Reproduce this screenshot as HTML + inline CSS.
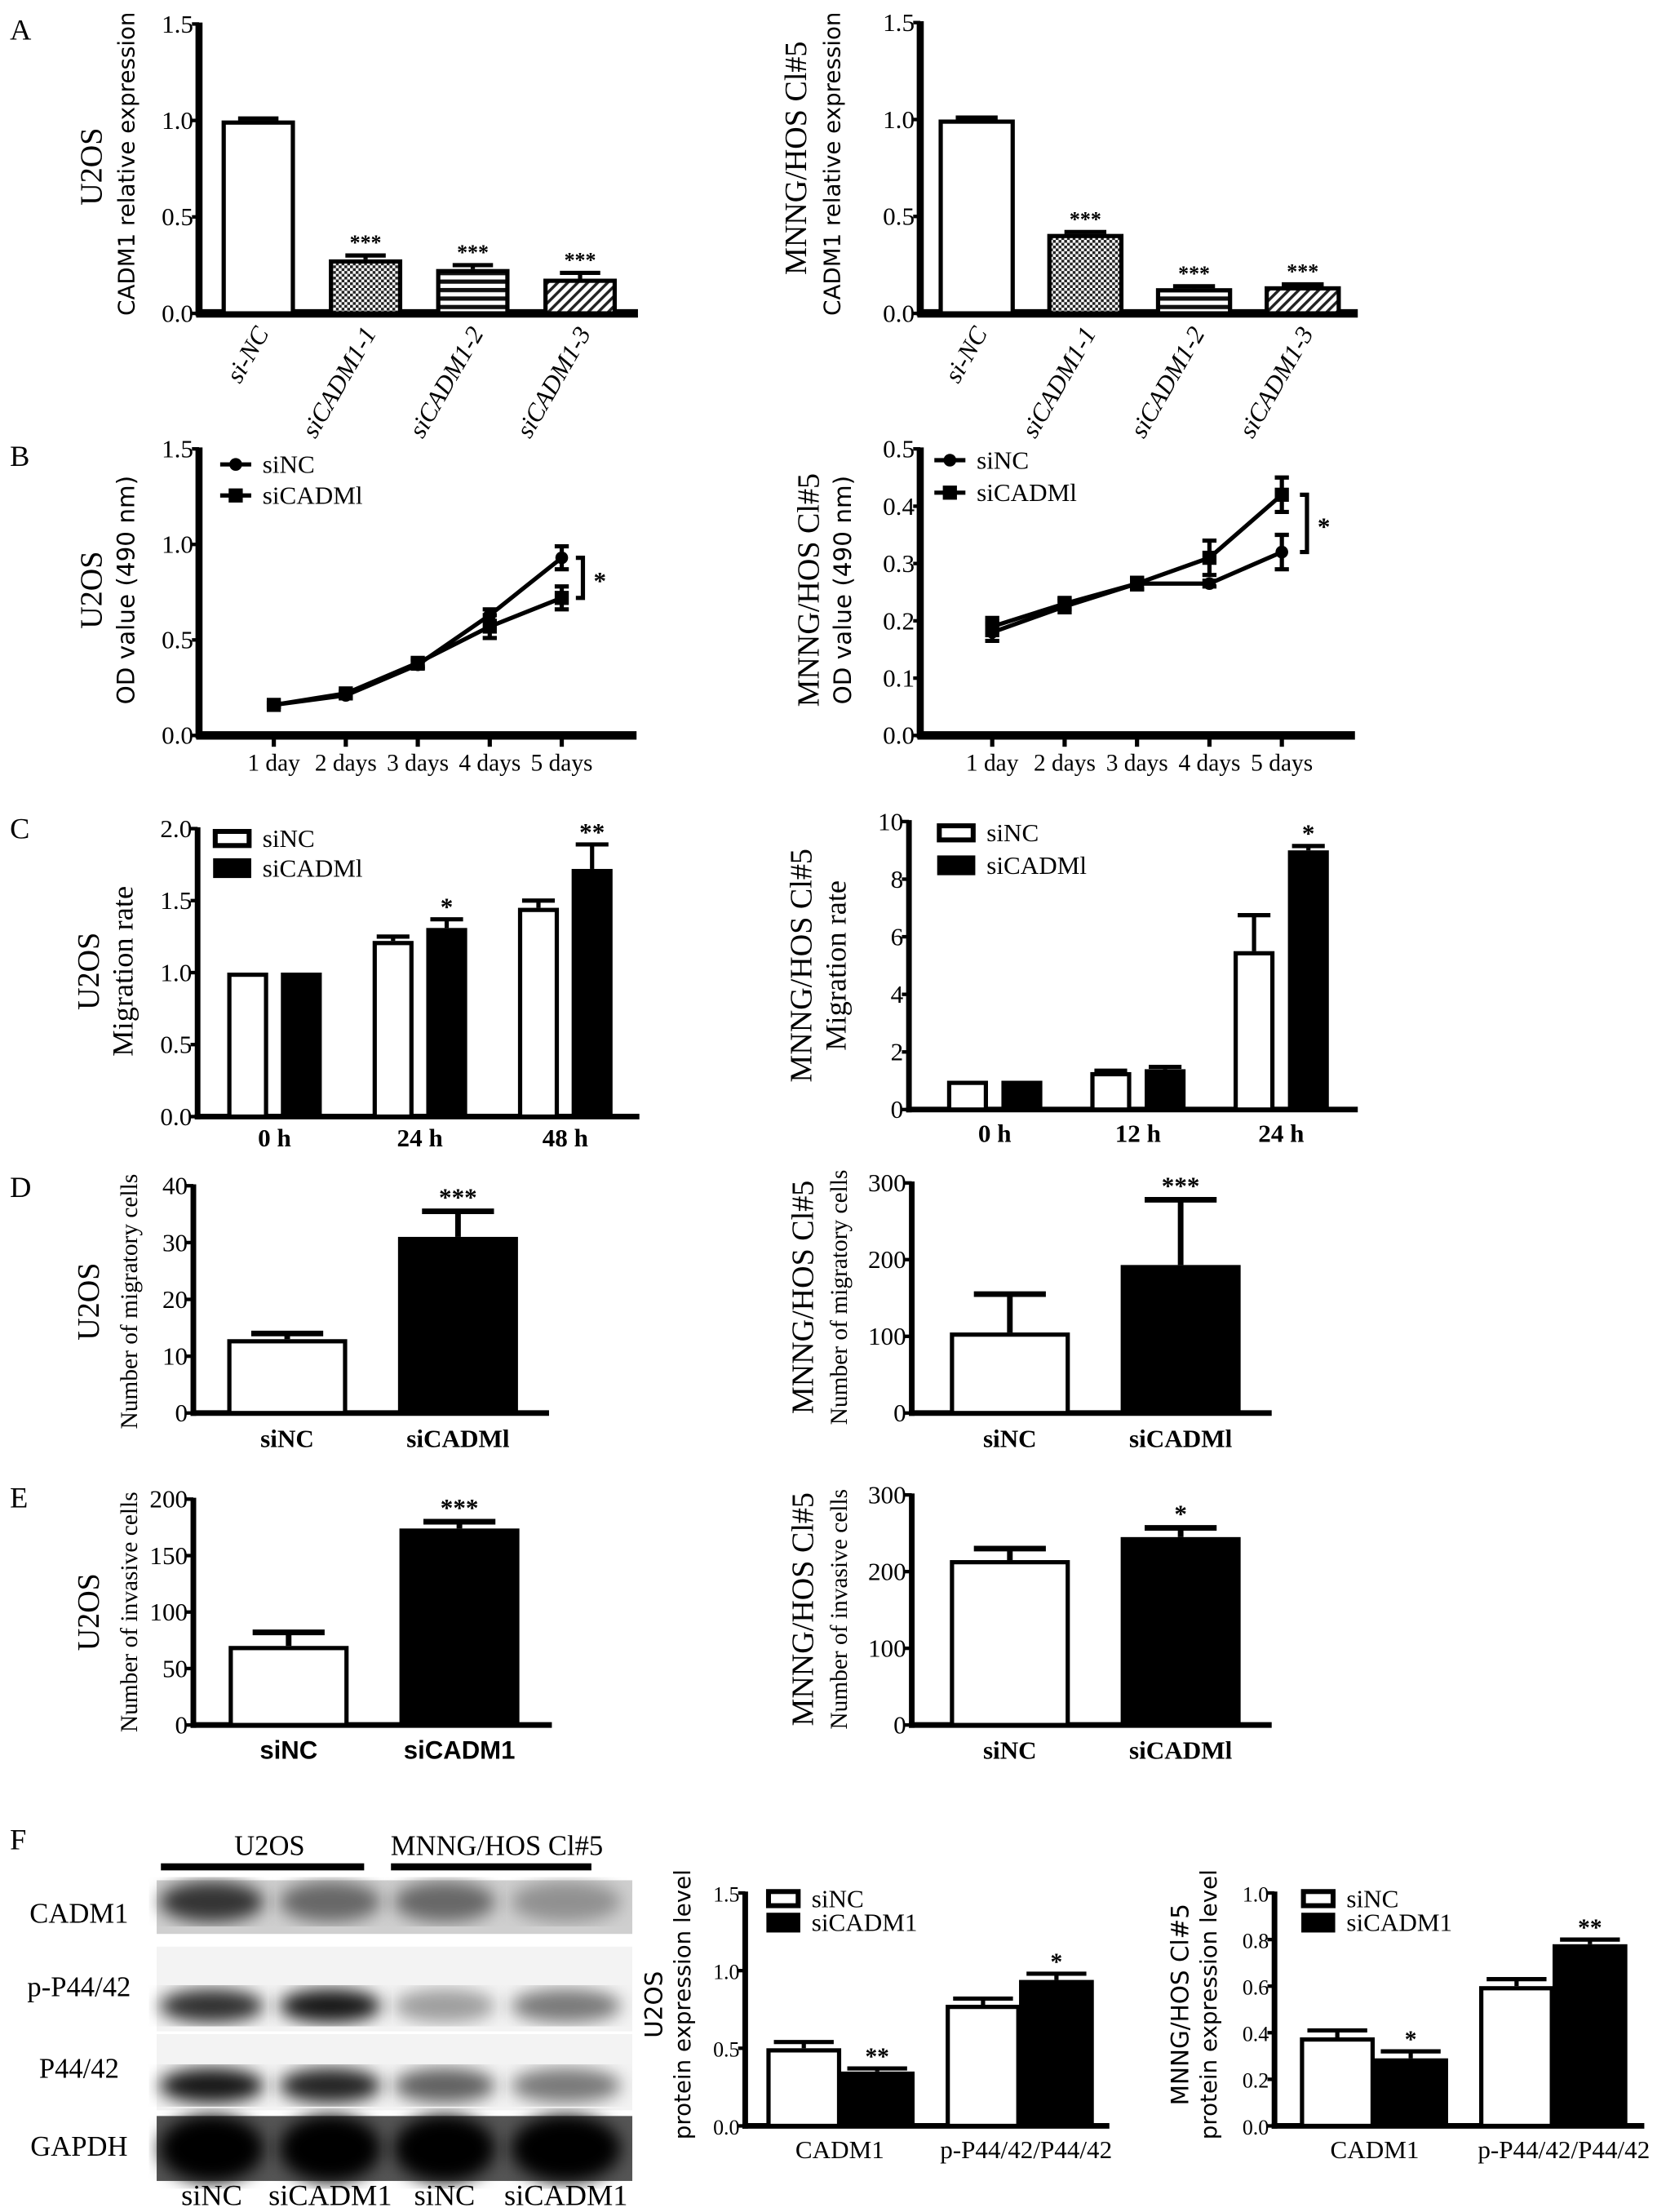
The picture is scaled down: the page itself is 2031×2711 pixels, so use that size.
<!DOCTYPE html>
<html><head><meta charset="utf-8"><style>
html,body{margin:0;padding:0;background:#fff}
svg{display:block}
text{font-family:"Liberation Serif",serif;fill:#000}
</style></head><body>
<svg id="fig" xmlns="http://www.w3.org/2000/svg" width="2031" height="2711" viewBox="0 0 1174 1567" preserveAspectRatio="none">
<defs>
<pattern id="pDots" width="4" height="4" patternUnits="userSpaceOnUse"><rect width="4" height="4" fill="#fff"/><rect width="2" height="2" fill="#222"/><rect x="2" y="2" width="2" height="2" fill="#222"/></pattern>
<pattern id="pHoriz" width="6" height="6" patternUnits="userSpaceOnUse"><rect width="6" height="6" fill="#fff"/><rect width="6" height="3" fill="#111"/></pattern>
<pattern id="pDiag" width="5" height="5" patternUnits="userSpaceOnUse" patternTransform="rotate(45)"><rect width="5" height="5" fill="#fff"/><rect width="2" height="5" fill="#222"/></pattern>
<filter id="blur"><feGaussianBlur stdDeviation="6"/></filter>
</defs>
<g id="root"></g>
</svg>
<script>
// ---- data ----
const aCats = ["si-NC","siCADM1-1","siCADM1-2","siCADM1-3"];
const aLeftVals = [1.0,0.28,0.23,0.18];
const aLeftErr = [0.01,0.02,0.02,0.03];
const aRightVals = [1.0,0.41,0.13,0.14];
const aRightErr = [0.01,0.01,0.01,0.01];
const aStars = ["","***","***","***"];
const bDays = ["1 day","2 days","3 days","4 days","5 days"];
const bLeftNC = [0.16,0.21,0.37,0.63,0.93];
const bLeftNCErr = [0.01,0.01,0.02,0.03,0.06];
const bLeftSi = [0.16,0.22,0.38,0.57,0.72];
const bLeftSiErr = [0.01,0.01,0.02,0.06,0.06];
const bRightNC = [0.18,0.225,0.265,0.265,0.32];
const bRightNCErr = [0.015,0.01,0.01,0.005,0.03];
const bRightSi = [0.19,0.23,0.265,0.31,0.42];
const bRightSiErr = [0.015,0.01,0.01,0.03,0.03];
const cLeftCats = ["0 h","24 h","48 h"];
const cLeftNC = [1.0,1.22,1.45];
const cLeftNCErr = [0.0,0.03,0.05];
const cLeftSi = [1.0,1.31,1.72];
const cLeftSiErr = [0.0,0.06,0.17];
const cLeftStars = ["","*","**"];
const cRightCats = ["0 h","12 h","24 h"];
const cRightNC = [1.0,1.3,5.5];
const cRightNCErr = [0.0,0.05,1.25];
const cRightSi = [1.0,1.4,9.0];
const cRightSiErr = [0.0,0.08,0.15];
const cRightStars = ["","","*"];
const dCats = ["siNC","siCADMl"];
const dLeftVals = [13,31];
const dLeftErr = [1,4.5];
const dRightVals = [105,193];
const dRightErr = [50,85];
const dStars = ["","***"];
const eCatsL = ["siNC","siCADM1"];
const eCatsR = ["siNC","siCADMl"];
const eLeftVals = [70,174];
const eLeftErr = [12,6];
const eRightVals = [215,245];
const eRightErr = [15,12];
const eLeftStars = ["","***"];
const eRightStars = ["","*"];
const fCats = ["CADM1","p-P44/42/P44/42"];
const fLeftNC = [0.50,0.78];
const fLeftNCErr = [0.04,0.04];
const fLeftSi = [0.35,0.94];
const fLeftSiErr = [0.02,0.04];
const fLeftStars = ["**","*"];
const fRightNC = [0.38,0.60];
const fRightNCErr = [0.03,0.03];
const fRightSi = [0.29,0.78];
const fRightSiErr = [0.03,0.02];
const fRightStars = ["*","**"];

const NS="http://www.w3.org/2000/svg";
const root=document.getElementById('root');
function el(tag,attrs,parent){const e=document.createElementNS(NS,tag);for(const k in attrs)e.setAttribute(k,attrs[k]);(parent||root).appendChild(e);return e;}
function txt(s,x,y,size,anchor,parent,rot,weight,fam){const t=el('text',{x:x,y:y,'font-size':size,'text-anchor':anchor||'middle'},parent);if(rot)t.setAttribute('transform','rotate('+rot+' '+x+' '+y+')');if(weight)t.setAttribute('font-weight',weight);if(fam)t.setAttribute('style','font-family:'+fam);t.textContent=s;return t;}
function scale(p){return v=>p.y0-(v-p.min)/(p.max-p.min)*(p.y0-p.y1);}

function axes(p,g){
  const Y=scale(p);
  const ya=el('line',{x1:p.ax,y1:p.y1-1,x2:p.ax,y2:p.y0+2,stroke:'#000','stroke-width':p.lw||4},g);
  
  
  const xa=el('line',{x1:p.ax-2,y1:p.y0,x2:p.xEnd,y2:p.y0,stroke:'#000','stroke-width':p.xlw||p.lw||4},g);
  
  
  for(let i=0;i<p.ticks.length;i++){
    const v=p.ticks[i];const y=Y(v);
    el('line',{x1:p.ax-5,y1:y,x2:p.ax,y2:y,stroke:'#000','stroke-width':2.5},g);
    const t=txt(p.tickFmt(v),p.ax-4,y+6,p.tfs||18,'end',g);
    
    
  }
  return Y;
}
function errBar(x,yTop,yErr,w,g,lw){
  el('line',{x1:x,y1:yTop,x2:x,y2:yErr,stroke:'#000','stroke-width':lw||3},g);
  el('line',{x1:x-w/2,y1:yErr,x2:x+w/2,y2:yErr,stroke:'#000','stroke-width':lw||3},g);
}
function bar(x,w,Y,v,min,fill,g,name){
  const r=el('rect',{x:x+1.5,y:Y(v)+1.5,width:w-3,height:Y(min)-Y(v)-1.5,fill:fill,stroke:'#000','stroke-width':3},g);
  
  
  return r;
}
function yTitle(lines,g){
  for(const L of lines){const t=txt(L.s,L.x,L.y,L.fs,'middle',g,-90,null,L.fam);
    
    }
}
function panelLabel(s,x,y){const t=txt(s,x,y,21,'start');
  
  }

// ---- Panel A ----
function panelA(p,vals,errs,name){
  const g=el('g',{});
  const Y=axes(p,g);
  const fills=['#fff','url(#pDots)','url(#pHoriz)','url(#pDiag)'];
  for(let i=0;i<vals.length;i++){
    const x=p.x0+i*p.step;
    bar(x,p.w,Y,vals[i],0,fills[i],g,'bar-'+aCats[i]);
    errBar(x+p.w/2,Y(vals[i]),Y(vals[i]+errs[i]),p.w*0.55,g,3);
    if(aStars[i]){const s=txt(aStars[i],x+p.w/2,Y(vals[i]+errs[i])-4,15,'middle',g,0,'bold');}
    const lx=x+p.w/2+8, ly=p.y0+14;
    const t=txt(aCats[i],lx,ly,18,'end',g,-60);t.setAttribute('font-style','italic');
    
    
  }
}
panelLabel('A',7,28);
panelA({ax:141,y0:222,y1:17,min:0,max:1.5,ticks:[0,0.5,1,1.5],tickFmt:v=>v.toFixed(1),xEnd:452,x0:157,step:76,w:52,lw:5,xlw:6},aLeftVals,aLeftErr,'chart-a-u2os');
yTitle([{s:'U2OS',x:72,y:118,fs:22},{s:'CADM1 relative expression',x:95,y:116,fs:16,fam:'"DejaVu Sans",sans-serif'}]);
panelA({ax:652,y0:222,y1:16,min:0,max:1.5,ticks:[0,0.5,1,1.5],tickFmt:v=>v.toFixed(1),xEnd:962,x0:665,step:77,w:54,lw:5,xlw:6},aRightVals,aRightErr,'chart-a-mnng');
yTitle([{s:'MNNG/HOS Cl#5',x:571,y:112,fs:22},{s:'CADM1 relative expression',x:595,y:116,fs:16,fam:'"DejaVu Sans",sans-serif'}]);

// ---- Panel B ----
function panelB(p,nc,ncE,si,siE,name){
  const g=el('g',{});
  const Y=axes(p,g);
  const X=i=>p.x0+i*p.step;
  for(let i=0;i<bDays.length;i++){
    el('line',{x1:X(i),y1:p.y0,x2:X(i),y2:p.y0+8,stroke:'#000','stroke-width':3},g);
    const t=txt(bDays[i],X(i),p.y0+25,17,'middle',g);
    
    
  }
  function series(vals,errs,marker,nm){
    const pts=vals.map((v,i)=>X(i)+','+Y(v)).join(' ');
    const pl=el('polyline',{points:pts,fill:'none',stroke:'#000','stroke-width':3},g);
    
    
    for(let i=0;i<vals.length;i++){
      const x=X(i),y=Y(vals[i]);
      if(errs[i]>0.004){el('line',{x1:x,y1:Y(vals[i]-errs[i]),x2:x,y2:Y(vals[i]+errs[i]),stroke:'#000','stroke-width':3},g);
        el('line',{x1:x-5,y1:Y(vals[i]+errs[i]),x2:x+5,y2:Y(vals[i]+errs[i]),stroke:'#000','stroke-width':3},g);
        el('line',{x1:x-5,y1:Y(vals[i]-errs[i]),x2:x+5,y2:Y(vals[i]-errs[i]),stroke:'#000','stroke-width':3},g);}
      let m;
      if(marker==='c')m=el('circle',{cx:x,cy:y,r:4.5,fill:'#000'},g);
      else m=el('rect',{x:x-5,y:y-5,width:10,height:10,fill:'#000'},g);
      
      
    }
  }
  series(nc,ncE,'c','sinc');
  series(si,siE,'s','sicadm1');
  const lg=el('g',{},g);
  el('line',{x1:p.lx,y1:p.ly1,x2:p.lx+22,y2:p.ly1,stroke:'#000','stroke-width':3},lg);
  el('circle',{cx:p.lx+11,cy:p.ly1,r:4.5,fill:'#000'},lg);
  txt('siNC',p.lx+30,p.ly1+6,18,'start',lg);
  el('line',{x1:p.lx,y1:p.ly2,x2:p.lx+22,y2:p.ly2,stroke:'#000','stroke-width':3},lg);
  el('rect',{x:p.lx+6,y:p.ly2-5,width:10,height:10,fill:'#000'},lg);
  txt('siCADMl',p.lx+30,p.ly2+6,18,'start',lg);
  const last=bDays.length-1;
  const ya=Y(Math.max(nc[last],si[last])), yb=Y(Math.min(nc[last],si[last]));
  el('polyline',{points:(p.bx-5)+','+ya+' '+p.bx+','+ya+' '+p.bx+','+yb+' '+(p.bx-5)+','+yb,fill:'none',stroke:'#000','stroke-width':3},g);
  const st=txt('*',p.bx+12,(ya+yb)/2+8,18,'middle',g,0,'bold');
  
  
}
panelLabel('B',7,330);
panelB({ax:141,y0:521,y1:318,min:0,max:1.5,ticks:[0,0.5,1,1.5],tickFmt:v=>v.toFixed(1),xEnd:451,x0:194,step:51,lx:156,ly1:329,ly2:351,bx:413,lw:5,xlw:6},bLeftNC,bLeftNCErr,bLeftSi,bLeftSiErr,'chart-b-u2os');
yTitle([{s:'U2OS',x:72,y:418,fs:22},{s:'OD value (490 nm)',x:95,y:418,fs:17,fam:'"DejaVu Sans",sans-serif'}]);
panelB({ax:652,y0:521,y1:318,min:0,max:0.5,ticks:[0,0.1,0.2,0.3,0.4,0.5],tickFmt:v=>v.toFixed(1),xEnd:960,x0:703,step:51.3,lx:662,ly1:326,ly2:349,bx:926,lw:5,xlw:6},bRightNC,bRightNCErr,bRightSi,bRightSiErr,'chart-b-mnng');
yTitle([{s:'MNNG/HOS Cl#5',x:580,y:418,fs:22},{s:'OD value (490 nm)',x:603,y:418,fs:17,fam:'"DejaVu Sans",sans-serif'}]);

// ---- grouped bar charts (C, F) ----
function grouped(p,cats,nc,ncE,si,siE,stars,name){
  const g=el('g',{});
  const Y=axes(p,g);
  for(let i=0;i<cats.length;i++){
    const xw=p.x0+i*p.gstep, xb=xw+p.off;
    if(ncE[i]>0)errBar(xw+p.w/2,Y(nc[i]),Y(nc[i]+ncE[i]),p.w*0.8,g,3);
    if(siE[i]>0)errBar(xb+p.w/2,Y(si[i]),Y(si[i]+siE[i]),p.w*0.8,g,3);
    bar(xw,p.w,Y,nc[i],p.min,'#fff',g,'bar-sinc-'+cats[i]);
    bar(xb,p.w,Y,si[i],p.min,'#000',g,'bar-sicadm1-'+cats[i]);
    if(stars[i]){const s=txt(stars[i],xb+p.w/2,Y(si[i]+siE[i])-3,p.sfs||18,'middle',g,0,'bold');}
    const t=txt(cats[i],p.catX?p.catX(i):(xw+xb+p.w)/2,p.y0+p.catDy,p.cfs||18,'middle',g,0,p.cw);
    
    
  }
  const lg=el('g',{},g);
  el('rect',{x:p.lx+1.5,y:p.ly1-5,width:p.lw2-3,height:10,fill:'#fff',stroke:'#000','stroke-width':3.5},lg);
  txt('siNC',p.lx+p.lw2+8,p.ly1+6,p.lfs||18,'start',lg);
  el('rect',{x:p.lx,y:p.ly2-7,width:p.lw2,height:14,fill:'#000'},lg);
  txt(p.siName,p.lx+p.lw2+8,p.ly2+6,p.lfs||18,'start',lg);
}
panelLabel('C',7,594);
grouped({ax:140,y0:791,y1:587,min:0,max:2,ticks:[0,0.5,1,1.5,2],tickFmt:v=>v.toFixed(1),xEnd:453,x0:161,gstep:103,off:38,w:29,catDy:21,cw:'bold',lx:151,ly1:594,ly2:615,lw2:27,siName:'siCADMl'},cLeftCats,cLeftNC,cLeftNCErr,cLeftSi,cLeftSiErr,cLeftStars,'chart-c-u2os');
yTitle([{s:'U2OS',x:70,y:688,fs:22},{s:'Migration rate',x:94,y:688,fs:21}]);
grouped({ax:644,y0:786,y1:582,min:0,max:10,ticks:[0,2,4,6,8,10],tickFmt:v=>String(v),xEnd:962,x0:671,gstep:101.5,off:38.5,w:29,catDy:23,cw:'bold',lx:664,ly1:590,ly2:613,lw2:27,siName:'siCADMl'},cRightCats,cRightNC,cRightNCErr,cRightSi,cRightSiErr,cRightStars,'chart-c-mnng');
yTitle([{s:'MNNG/HOS Cl#5',x:575,y:684,fs:22},{s:'Migration rate',x:599,y:684,fs:21}]);

// ---- D, E ----
function simple(p,cats,vals,errs,stars,name){
  const g=el('g',{});
  const Y=axes(p,g);
  const fills=['#fff','#000'];
  for(let i=0;i<vals.length;i++){
    const x=p.x0+i*p.step;
    errBar(x+p.w/2,Y(vals[i]),Y(vals[i]+errs[i]),p.w*0.6,g,4);
    bar(x,p.w,Y,vals[i],0,fills[i],g,'bar-'+cats[i]);
    if(stars[i]){const s=txt(stars[i],x+p.w/2,Y(vals[i]+errs[i])-4,18,'middle',g,0,'bold');}
    const t=txt(cats[i],x+p.w/2,p.y0+p.catDy,18,'middle',g,0,'bold',p.cfam);
    
    
  }
}
panelLabel('D',7,848);
simple({ax:137,y0:1001,y1:840,min:0,max:40,ticks:[0,10,20,30,40],tickFmt:v=>String(v),xEnd:389,x0:161,step:121,w:85,catDy:24},dCats,dLeftVals,dLeftErr,dStars,'chart-d-u2os');
yTitle([{s:'U2OS',x:70,y:922,fs:22},{s:'Number of migratory cells',x:97,y:922,fs:17}]);
simple({ax:646,y0:1001,y1:838,min:0,max:300,ticks:[0,100,200,300],tickFmt:v=>String(v),xEnd:901,x0:673,step:121,w:85,catDy:24},dCats,dRightVals,dRightErr,dStars,'chart-d-mnng');
yTitle([{s:'MNNG/HOS Cl#5',x:576,y:919,fs:22},{s:'Number of migratory cells',x:600,y:919,fs:17}]);

panelLabel('E',7,1068);
simple({ax:137,y0:1222,y1:1062,min:0,max:200,ticks:[0,50,100,150,200],tickFmt:v=>String(v),xEnd:391,x0:162,step:121,w:85,catDy:24,cfam:'"Liberation Sans",sans-serif'},eCatsL,eLeftVals,eLeftErr,eLeftStars,'chart-e-u2os');
yTitle([{s:'U2OS',x:70,y:1142,fs:22},{s:'Number of invasive cells',x:97,y:1142,fs:17}]);
simple({ax:646,y0:1222,y1:1059,min:0,max:300,ticks:[0,100,200,300],tickFmt:v=>String(v),xEnd:901,x0:673,step:121,w:85,catDy:24},eCatsR,eRightVals,eRightErr,eRightStars,'chart-e-mnng');
yTitle([{s:'MNNG/HOS Cl#5',x:576,y:1140,fs:22},{s:'Number of invasive cells',x:600,y:1140,fs:17}]);

// ---- Panel F blot ----
panelLabel('F',7,1310);
(function(){
  const g=el('g',{});
  const h1=txt('U2OS',191,1314,20,'middle',g);
  const h2=txt('MNNG/HOS Cl#5',352,1314,20,'middle',g);
  el('rect',{x:114,y:1320,width:144,height:5,fill:'#000'},g);
  el('rect',{x:277,y:1320,width:142,height:5,fill:'#000'},g);
  const rows=[{n:'CADM1',y:1332,h:38,bg:'#cfcfcf',band:[0.75,0.5,0.5,0.3],by:0.1,bh:0.6,ly:1362},
              {n:'p-P44/42',y:1379,h:60,bg:'#f3f3f3',band:[0.8,0.9,0.35,0.5],by:0.55,bh:0.3,ly:1414},
              {n:'P44/42',y:1441,h:54,bg:'#f3f3f3',band:[0.9,0.85,0.6,0.5],by:0.5,bh:0.35,ly:1472},
              {n:'GAPDH',y:1499,h:46,bg:'#555',band:[1,1,1,1],by:0.05,bh:0.9,ly:1527}];
  const lanes=[111,196,277,360], lw=[78,76,76,82];
  for(const r of rows){
    el('rect',{x:111,y:r.y,width:337,height:r.h,fill:r.bg},g);
    for(let i=0;i<4;i++){
      const b=el('ellipse',{cx:lanes[i]+lw[i]/2,cy:r.y+r.h*(r.by+r.bh/2),rx:lw[i]/2-2,ry:r.h*r.bh/2+3,fill:'#000','fill-opacity':r.band[i],filter:'url(#blur)'},g);
      
      
    }
    const t=txt(r.n,56,r.ly,20,'middle',g);
    
    
  }
  const ll=['siNC','siCADM1','siNC','siCADM1'];
  for(let i=0;i<4;i++){const t=txt(ll[i],lanes[i]+lw[i]/2,1562,21,'middle',g);
    
    }
})();

grouped({ax:528,y0:1506,y1:1341,min:0,max:1.5,ticks:[0,0.5,1,1.5],tickFmt:v=>v.toFixed(1),tfs:15,xEnd:786,x0:543,gstep:127,off:52,w:53,catDy:23,cfs:18,catX:i=>[595,727][i],lx:543,ly1:1345,ly2:1362,lw2:24,lfs:18,sfs:17,siName:'siCADM1'},fCats,fLeftNC,fLeftNCErr,fLeftSi,fLeftSiErr,fLeftStars,'chart-f-u2os');
yTitle([{s:'U2OS',x:469,y:1420,fs:17,fam:'"DejaVu Sans",sans-serif'},{s:'protein expression level',x:489,y:1420,fs:16,fam:'"DejaVu Sans",sans-serif'}]);
grouped({ax:903,y0:1506,y1:1341,min:0,max:1.0,ticks:[0,0.2,0.4,0.6,0.8,1.0],tickFmt:v=>v.toFixed(1),tfs:15,xEnd:1165,x0:921,gstep:127,off:52,w:53,catDy:23,cfs:18,catX:i=>[974,1108][i],lx:922,ly1:1345,ly2:1362,lw2:24,lfs:18,sfs:17,siName:'siCADM1'},fCats,fRightNC,fRightNCErr,fRightSi,fRightSiErr,fRightStars,'chart-f-mnng');
yTitle([{s:'MNNG/HOS Cl#5',x:842,y:1420,fs:17,fam:'"DejaVu Sans",sans-serif'},{s:'protein expression level',x:862,y:1420,fs:16,fam:'"DejaVu Sans",sans-serif'}]);
</script>
</body></html>
